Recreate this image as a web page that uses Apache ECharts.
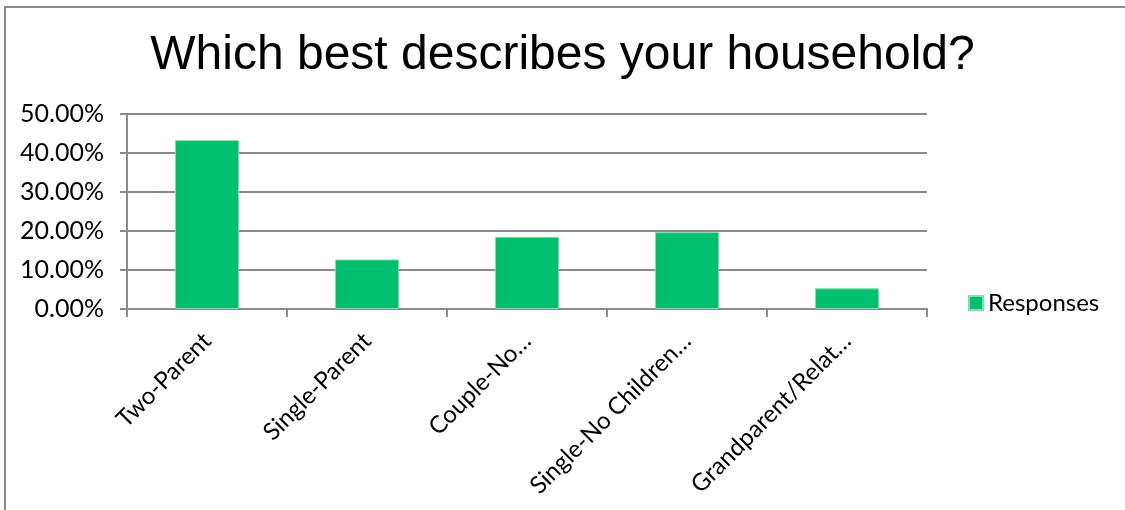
<!DOCTYPE html>
<html>
<head>
<meta charset="utf-8">
<script src="https://cdn.jsdelivr.net/npm/echarts@6/dist/echarts.min.js"></script>
<style>
html,body{margin:0;padding:0;background:#fff;}
#frame{position:absolute;left:4px;top:6px;width:1121px;height:504px;border-left:2px solid #8a8a8a;border-top:2px solid #8a8a8a;box-sizing:border-box;}
#chart{position:absolute;left:0;top:0;width:1125px;height:510px;}
</style>
</head>
<body>
<div id="frame"></div>
<div id="chart"></div>
<script>
//数据
var categories=['Two-Parent','Single-Parent','Couple-No…','Single-No Children…','Grandparent/Relat…'];
var responses=[43.3,12.7,18.5,19.7,5.3];
var yTicks={min:0,max:50,interval:10};

var chart=echarts.init(document.getElementById('chart'));
var options={
	backgroundColor:'transparent',
	animation:false,
	title:{
		text:'Which best describes your household?',
		left:'center',
		top:27,
		textStyle:{
			fontFamily:'Liberation Sans',
			fontSize:48,
			fontWeight:'normal',
			color:'#000'
		}
	},
	legend:{
		data:['Responses'],
		left:963,
		top:286,
		itemWidth:14,
		itemHeight:14,
		icon:'rect',
		itemGap:6,
		textStyle:{fontFamily:'Lato',fontSize:24,color:'#000'}
	},
	grid:{left:127,right:198,top:114,bottom:201,containLabel:false},
	xAxis:{
		type:'category',
		data:categories,
		axisLine:{lineStyle:{color:'#8a8a8a',width:2}},
		axisTick:{show:true,length:8,lineStyle:{color:'#8a8a8a',width:2}},
		axisLabel:{
			rotate:45,
			margin:28,
			interval:0,
			fontFamily:'Lato',
			fontSize:24,
			color:'#000'
		}
	},
	yAxis:{
		type:'value',
		min:yTicks.min,
		max:yTicks.max,
		interval:yTicks.interval,
		axisLine:{show:true,lineStyle:{color:'#8a8a8a',width:2}},
		axisTick:{show:true,length:7,lineStyle:{color:'#8a8a8a',width:2}},
		splitLine:{lineStyle:{color:'#8a8a8a',width:2}},
		axisLabel:{
			margin:23,
			fontFamily:'Lato',
			fontSize:25,
			color:'#000',
			formatter:function(v){return v.toFixed(2)+'%';}
		}
	},
	series:[
		{
			name:'Responses',
			type:'bar',
			data:responses,
			barWidth:'40%',
			itemStyle:{color:'#00bf6f',borderColor:'#7fdcb5',borderWidth:1}
		}
	]
};
chart.setOption(options);
</script>
</body>
</html>
